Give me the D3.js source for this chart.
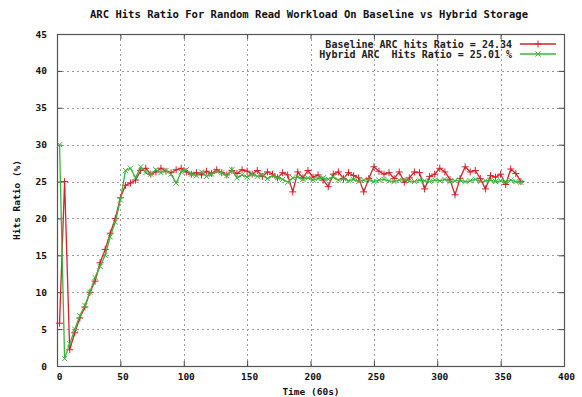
<!DOCTYPE html>
<html>
<head>
<meta charset="utf-8">
<script src="https://cdn.jsdelivr.net/npm/d3@7"></script>
<style>
  body { margin: 0; background: #fff; }
  text { font-family: "DejaVu Sans Mono", "Liberation Mono", monospace; white-space: pre; }
</style>
</head>
<body>
<svg id="chart" width="582" height="397"></svg>
<script>
// Sample times (units of 60 s)
const times = [
  2, 6, 10, 14, 18, 22, 26, 30, 34, 38, 42, 46, 50, 54, 58, 62, 66, 70, 74, 78,
  82, 86, 90, 94, 98, 102, 106, 110, 114, 118, 122, 126, 130, 134, 138, 142, 146, 150, 154, 158,
  162, 166, 170, 174, 178, 182, 186, 190, 194, 198, 202, 206, 210, 214, 218, 222, 226, 230, 234, 238,
  242, 246, 250, 254, 258, 262, 266, 270, 274, 278, 282, 286, 290, 294, 298, 302, 306, 310, 314, 318,
  322, 326, 330, 334, 338, 342, 346, 350, 354, 358, 362, 366
];

// ARC hit ratio (%) on the baseline storage
const baseline = [
  5.8, 25.0, 2.2, 4.5, 6.5, 8.0, 10.0, 11.5, 14.0, 15.8, 18.0, 20.0, 22.8, 24.5, 24.8, 25.2, 26.5, 26.8, 26.0, 26.3,
  26.8, 26.4, 26.2, 26.6, 26.8, 26.3, 26.0, 26.2, 25.9, 26.4, 26.1, 26.6, 26.2, 25.9, 26.5, 26.1, 26.6, 26.4, 26.0, 26.5,
  25.7, 26.3, 26.0, 25.5, 26.2, 25.9, 23.6, 26.3, 25.5, 26.5, 25.6, 25.9, 25.2, 24.3, 26.0, 26.3, 25.4, 26.2, 25.8, 25.5,
  23.6, 25.4, 27.0, 26.4, 26.0, 26.2, 25.4, 26.3, 24.9, 25.5, 26.3, 26.2, 24.0, 25.7, 26.0, 26.8, 26.3, 25.3, 23.2, 25.4,
  27.0, 26.3, 26.5, 25.4, 24.0, 25.8, 25.6, 26.0, 24.6, 26.7, 26.1, 25.0
];

// ARC hit ratio (%) on the hybrid storage
const hybrid = [
  30.0, 1.0, 3.0, 5.0, 6.8, 8.2, 10.0, 12.0, 13.5, 15.0, 17.5, 19.5, 22.5, 26.5, 26.8, 25.5, 27.0, 26.2, 26.0, 26.6,
  26.2, 26.5, 26.0, 24.8, 26.3, 26.6, 26.0, 25.8, 26.3, 25.7, 26.0, 26.4, 26.2, 25.8, 26.6, 25.5, 25.9, 25.6, 26.0, 25.7,
  25.9, 25.4, 25.8, 25.5, 25.3, 24.9, 25.5, 25.6, 25.3, 25.5, 25.2, 25.4, 25.5, 25.3, 25.6, 25.2, 25.4, 25.1, 25.3, 25.0,
  25.2, 25.3, 25.0, 25.2, 25.3, 25.1, 25.0, 25.2, 25.3, 25.1, 25.0, 25.2, 25.1, 25.0, 25.2, 25.1, 25.3, 25.0, 25.1, 25.2,
  25.0, 25.1, 25.3, 25.0, 25.1, 25.2, 25.0, 25.1, 25.0, 25.2, 25.0, 24.9
];

const xTicks = [0, 50, 100, 150, 200, 250, 300, 350, 400];
const yTicks = [0, 5, 10, 15, 20, 25, 30, 35, 40, 45];

const titleText = "ARC Hits Ratio For Random Read Workload On Baseline vs Hybrid Storage";
const xLabelText = "Time (60s)";
const yLabelText = "Hits Ratio (%)";
const seriesNames = ["Baseline ARC hits Ratio = 24.34", "Hybrid ARC  Hits Ratio = 25.01 %"];
const seriesColors = ["#d0242c", "#3cb43c"];

const W = 582, H = 397;
const m = { left: 57, right: 18, top: 34, bottom: 31 };
const x0 = m.left, x1 = W - m.right, y0 = H - m.bottom, y1 = m.top;

const svg = d3.select("#chart");

const x = d3.scaleLinear().domain([0, 400]).range([x0, x1]);
const y = d3.scaleLinear().domain([0, 45]).range([y0, y1]);

// Dotted grid
const grid = svg.append("g").attr("stroke", "#9a9a9a").attr("stroke-width", 1)
  .attr("stroke-dasharray", "2,3").attr("shape-rendering", "crispEdges");
grid.selectAll("line.gx").data(xTicks.slice(1, -1)).join("line")
  .attr("x1", d => Math.round(x(d)) + 0.5).attr("x2", d => Math.round(x(d)) + 0.5)
  .attr("y1", y1).attr("y2", y0);
grid.selectAll("line.gy").data(yTicks.slice(1, -1)).join("line")
  .attr("y1", d => Math.round(y(d)) + 0.5).attr("y2", d => Math.round(y(d)) + 0.5)
  .attr("x1", x0).attr("x2", x1);

// Axes: labels outside, tick marks pointing inward on all four sides
const tickFont = g => g.selectAll("text")
  .attr("font-size", "9.5px").attr("font-weight", "bold").attr("fill", "#111")
  .style("font-family", "'DejaVu Sans Mono', monospace");

const gx = svg.append("g").attr("transform", `translate(0,${y0})`)
  .call(d3.axisBottom(x).tickValues(xTicks).tickFormat(d3.format("d")).tickSize(-5).tickPadding(7));
const gy = svg.append("g").attr("transform", `translate(${x0},0)`)
  .call(d3.axisLeft(y).tickValues(yTicks).tickFormat(d3.format("d")).tickSize(-5).tickPadding(10));
const gxt = svg.append("g").attr("transform", `translate(0,${y1})`)
  .call(d3.axisTop(x).tickValues(xTicks).tickFormat("").tickSize(-5));
const gyr = svg.append("g").attr("transform", `translate(${x1},0)`)
  .call(d3.axisRight(y).tickValues(yTicks).tickFormat("").tickSize(-5));
[gx, gy, gxt, gyr].forEach(g => {
  g.select(".domain").remove();
  g.selectAll(".tick line").attr("stroke", "#444");
  tickFont(g);
});
gx.selectAll("text").attr("dx", "2");

// Plot border
svg.append("rect").attr("x", x0 + 0.5).attr("y", y1 + 0.5)
  .attr("width", x1 - x0).attr("height", y0 - y1)
  .attr("fill", "none").attr("stroke", "#555").attr("stroke-width", 1.2);

// Series lines and point markers
const series = [baseline, hybrid];
const line = d3.line().x(d => x(d[0])).y(d => y(d[1]));
const markerPath = [
  (cx, cy, r) => `M${cx - r},${cy}H${cx + r}M${cx},${cy - r}V${cy + r}`,
  (cx, cy, r) => `M${cx - r},${cy - r}L${cx + r},${cy + r}M${cx - r},${cy + r}L${cx + r},${cy - r}`
];
series.forEach((vals, i) => {
  const pts = times.map((t, k) => [t, vals[k]]);
  const g = svg.append("g");
  g.append("path").datum(pts).attr("d", line)
    .attr("fill", "none").attr("stroke", seriesColors[i]).attr("stroke-width", 1.3)
    .attr("stroke-linejoin", "round");
  g.selectAll("path.mk").data(pts).join("path").attr("class", "mk")
    .attr("d", d => markerPath[i](x(d[0]), y(d[1]), i === 0 ? 3.5 : 2.6))
    .attr("stroke", seriesColors[i]).attr("stroke-width", 1).attr("fill", "none");
});

// Legend (top right, inside the plot)
const legendRows = [44, 54];
seriesNames.forEach((name, i) => {
  svg.append("text").attr("x", 512).attr("y", legendRows[i]).attr("dy", "0.35em")
    .attr("text-anchor", "end").attr("font-size", "10px").attr("font-weight", "bold")
    .attr("fill", "#222").text(name);
  svg.append("line").attr("x1", 520).attr("x2", 556)
    .attr("y1", legendRows[i]).attr("y2", legendRows[i])
    .attr("stroke", seriesColors[i]).attr("stroke-width", 1.3);
  svg.append("path").attr("d", markerPath[i](538, legendRows[i], i === 0 ? 3.5 : 2.6))
    .attr("stroke", seriesColors[i]).attr("stroke-width", 1).attr("fill", "none");
});

// Title and axis labels
svg.append("text").attr("x", 309).attr("y", 18).attr("text-anchor", "middle")
  .attr("font-size", "10px").attr("font-weight", "bold").attr("fill", "#111")
  .attr("textLength", 438).attr("lengthAdjust", "spacingAndGlyphs").text(titleText);
svg.append("text").attr("x", 311).attr("y", 395).attr("text-anchor", "middle")
  .attr("font-size", "9.5px").attr("font-weight", "bold").attr("fill", "#111").text(xLabelText);
svg.append("text").attr("transform", "translate(20,200) rotate(-90)").attr("text-anchor", "middle")
  .attr("font-size", "9.5px").attr("font-weight", "bold").attr("fill", "#111").text(yLabelText);
</script>
</body>
</html>
